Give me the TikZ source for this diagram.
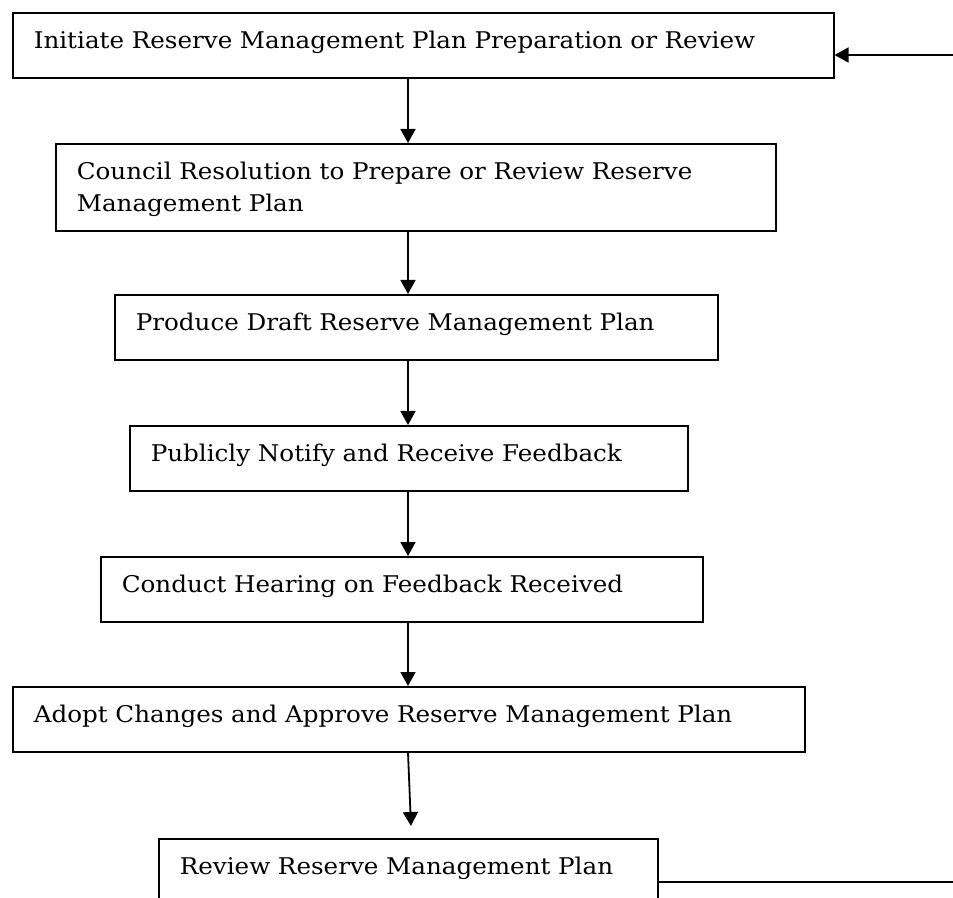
\documentclass[tikz,border=0pt]{standalone}
\usepackage{fontspec}
\setmainfont[FakeStretch=1.07]{DejaVu Serif}
\usetikzlibrary{arrows.meta}

\tikzset{
	stage/.style={draw, line width=0.8pt, anchor=north west, align=left,
		inner xsep=10.5pt, inner ysep=0pt, text height=18pt, text depth=14.5pt,
		font=\fontsize{11.5}{16}\selectfont},
	flow/.style={->, line width=0.9pt}
}

\begin{document}
\begin{tikzpicture}[x=0.5pt,y=-0.5pt,>={Triangle[length=7pt,width=7.5pt]}]

	\useasboundingbox (0,0) rectangle (953,898);
	
	% steps of the plan, top to bottom
	\node[stage, text width=389.5pt] (initiate) at (12,12) {Initiate Reserve Management Plan Preparation or Review};
	
	\node[stage, text width=339pt, text depth=25.5pt] (council) at (55,143) {Council Resolution to Prepare or Review Reserve\\Management Plan};
	
	\node[stage, text width=280.5pt] (draft) at (114,294) {Produce Draft Reserve Management Plan};
	
	\node[stage, text width=258pt] (notify) at (129,425) {Publicly Notify and Receive Feedback};
	
	\node[stage, text width=280pt] (hearing) at (100,556) {Conduct Hearing on Feedback Received};
	
	\node[stage, text width=375pt] (adopt) at (12,686) {Adopt Changes and Approve Reserve Management Plan};
	
	\node[stage, text width=228.5pt] (review) at (158,838) {Review Reserve Management Plan};
	
	
	\coordinate (spine) at (408,0);
	\coordinate (tip) at (411,826);
	\coordinate (loopin) at (953,55);
	\coordinate (loopout) at (953,882);
	
	\draw[flow] (initiate.south -| spine) -- (council.north -| spine);
	\draw[flow] (council.south -| spine) -- (draft.north -| spine);
	\draw[flow] (draft.south -| spine) -- (notify.north -| spine);
	\draw[flow] (notify.south -| spine) -- (hearing.north -| spine);
	\draw[flow] (hearing.south -| spine) -- (adopt.north -| spine);
	\draw[flow] (adopt.south -| spine) -- (tip);
	
	% back to the start
	\draw[line width=0.8pt] (review.east |- loopout) -- (loopout);
	\draw[flow] (loopin) -- (loopin -| initiate.east);

\end{tikzpicture}
\end{document}
